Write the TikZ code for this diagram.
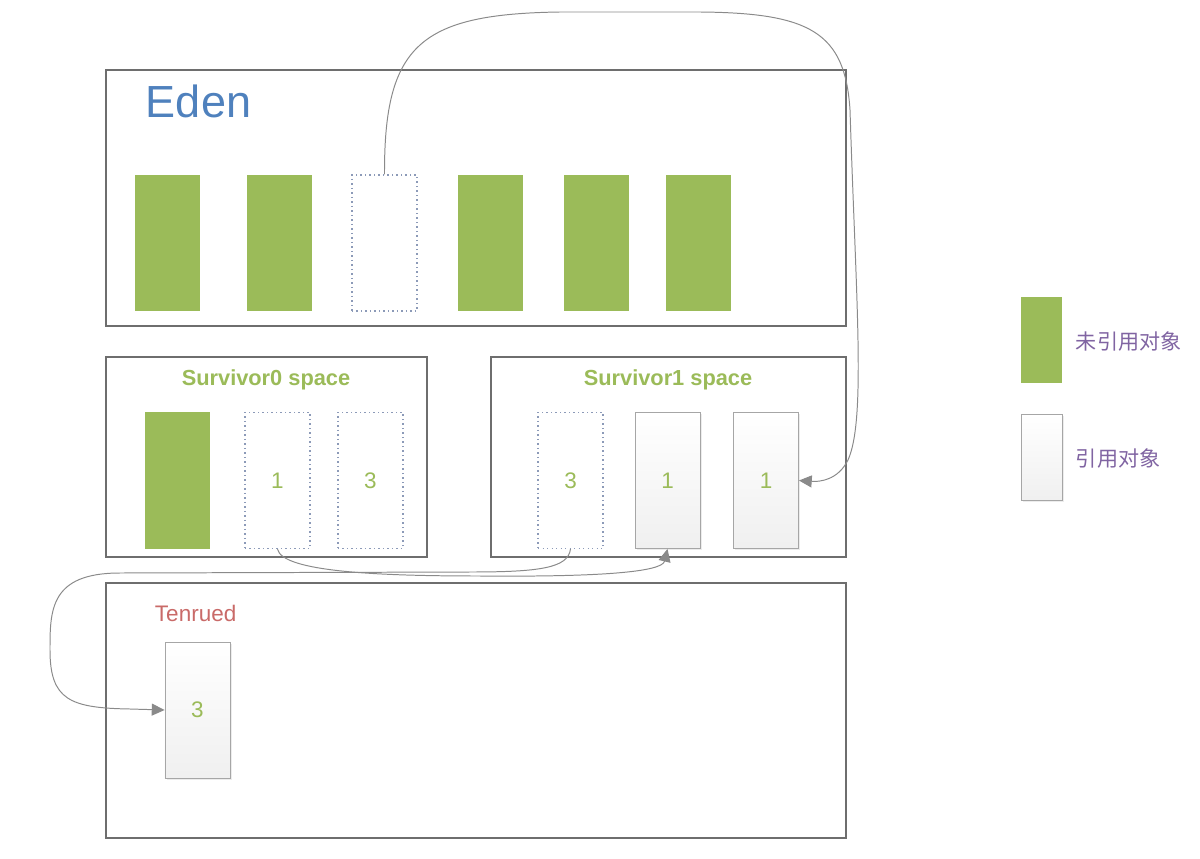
\documentclass[tikz,border=0pt]{standalone}
\usepackage{fontspec}
\setmainfont{Liberation Sans}
\newfontfamily\cjk{Noto Sans CJK SC}
\usetikzlibrary{arrows.meta, positioning, shadows}
\definecolor{EdenBlue}{HTML}{4F81BD}
\definecolor{ObjGreen}{HTML}{9BBB59}
\definecolor{TenRed}{HTML}{C0504D}
\definecolor{LegPurple}{HTML}{8064A2}
\definecolor{FrameGray}{HTML}{6E6E6E}
\definecolor{LinkGray}{HTML}{8A8A8A}
\definecolor{DotBlue}{HTML}{8C9AB8}
\tikzset{
    % memory areas
    region/.style={
        rectangle,
        draw=FrameGray,
        line width=0.9pt,
        inner sep=0pt
    },
    % objects
    deadobj/.style={
        rectangle,
        fill=ObjGreen,
        minimum width=1.625cm,
        minimum height=3.4cm,
        inner sep=0pt
    },
    liveobj/.style={
        rectangle,
        draw=gray!70,
        line width=0.6pt,
        top color=white,
        bottom color=gray!12,
        drop shadow={opacity=0.15, shadow xshift=1.2pt, shadow yshift=-1.2pt},
        minimum width=1.625cm,
        minimum height=3.4cm,
        inner sep=0pt,
        font=\fontsize{16}{18}\selectfont,
        text=ObjGreen
    },
    emptyobj/.style={
        rectangle,
        draw=DotBlue,
        dash pattern=on 0.8pt off 2.4pt,
        line width=0.8pt,
        minimum width=1.625cm,
        minimum height=3.4cm,
        inner sep=0pt,
        font=\fontsize{16}{18}\selectfont,
        text=ObjGreen
    },
    spacetitle/.style={
        font=\bfseries\fontsize{15.5}{18}\selectfont,
        text=ObjGreen
    },
    legendtext/.style={
        anchor=west,
        font=\cjk\fontsize{15}{18}\selectfont,
        text=LegPurple
    },
    % connectors
    linkarrow/.style={
        -{Triangle[length=3.2mm, width=3mm]},
        draw=LinkGray,
        line width=0.7pt
    }
}

\begin{document}
\begin{tikzpicture}[x=0.025cm, y=-0.025cm]
    \useasboundingbox (0,0) rectangle (1200,859);

    % Eden
    \draw[region] (106,70) rectangle (846,326);
    \node[anchor=west, font=\fontsize{32}{36}\selectfont, text=EdenBlue] (edentitle) at (141,101) {Eden};
    \node[deadobj] (e1) at (167.5,243) {};
    \node[deadobj] (e2) at (279.5,243) {};
    \node[emptyobj] (e3) at (384.5,243) {};
    \node[deadobj] (e4) at (490.5,243) {};
    \node[deadobj] (e5) at (596.5,243) {};
    \node[deadobj] (e6) at (698.5,243) {};

    % Survivor0 space
    \draw[region] (106,357) rectangle (427,557);
    \node[spacetitle] (s0title) at (266,380) {Survivor0 space};
    \node[deadobj] (s0a) at (177.5,480.5) {};
    \node[emptyobj] (s0b) at (277.5,480.5) {1};
    \node[emptyobj] (s0c) at (370.5,480.5) {3};

    % Survivor1 space
    \draw[region] (491,357) rectangle (846,557);
    \node[spacetitle] (s1title) at (668,380) {Survivor1 space};
    \node[emptyobj] (s1a) at (570.5,480.5) {3};
    \node[liveobj] (s1b) at (667.5,480.5) {1};
    \node[liveobj] (s1c) at (766,480.5) {1};

    % Tenured
    \draw[region] (106,583) rectangle (846,838);
    \node[anchor=west, font=\fontsize{16}{18}\selectfont, text=TenRed!85] (tentitle) at (150,613) {Tenrued};
    \node[liveobj] (t1) at (197.5,710) {3};

    % Legend
    \node[deadobj, minimum width=1.025cm, minimum height=2.15cm] (legdead) at (1041.5,340) {};
    \node[legendtext] (legdeadtext) at (1071,341) {未引用对象};
    \node[liveobj, minimum width=1.025cm, minimum height=2.15cm] (leglive) at (1041.5,457) {};
    \node[legendtext] (leglivetext) at (1071,458) {引用对象};

    % Connectors
    \draw[linkarrow] (e3.north) .. controls (384,45) and (420,14) .. (560,12)
        -- (700,12) .. controls (810,13) and (845,32) .. (850,110)
        .. controls (856,300) and (866,420) .. (848,460)
        .. controls (838,480) and (820,482) .. (s1c.east);
    \draw[linkarrow] (s0b.south) .. controls (282,572) and (380,576) .. (480,576)
        .. controls (600,577) and (662,572) .. (s1b.south);
    \draw[linkarrow] (s1a.south) .. controls (568,568) and (540,572) .. (470,572)
        -- (120,573) .. controls (50,573) and (50,610) .. (50,650)
        .. controls (50,700) and (70,708) .. (130,709) -- (t1.west);
\end{tikzpicture}
\end{document}
